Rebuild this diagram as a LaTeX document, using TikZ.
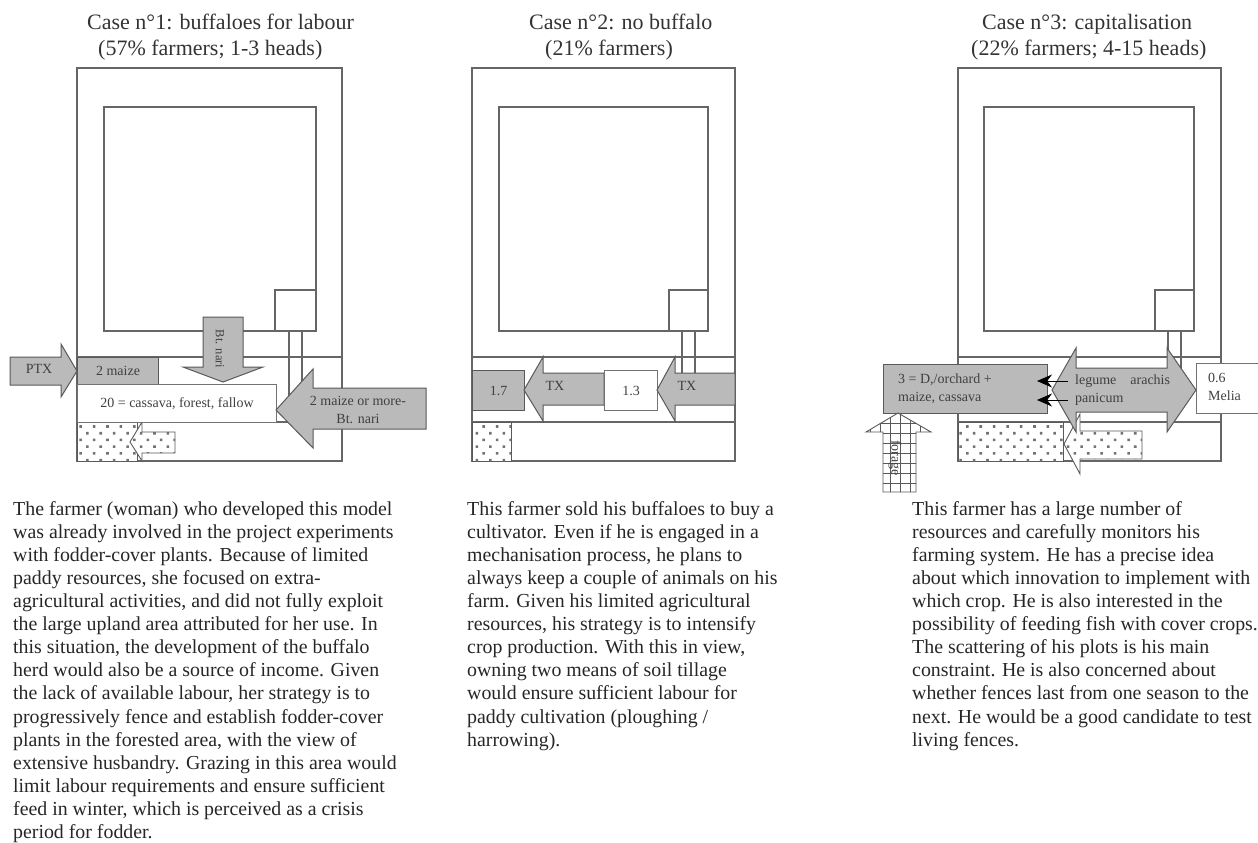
\documentclass[tikz,border=0pt]{standalone}
\usepackage{fontspec}
\setmainfont{Liberation Serif}
\usepackage{tikz}
\usetikzlibrary{patterns.meta, arrows.meta}

\begin{document}
\begin{tikzpicture}[
    x=1pt, y=-1pt,
    wall/.style={draw=black!60, line width=1.1pt},
    flowarrow/.style={draw=black!65, line width=1pt, fill=black!27},
    greybox/.style={draw=black!65, line width=1pt, fill=black!27},
    whitebox/.style={draw=black!55, line width=1pt, fill=white},
    dotarea/.style={draw=black!65, line width=0.9pt, fill=white, postaction={pattern={Dots[angle=45,distance=9.5pt,radius=1.8pt]}, pattern color=black!55}},
    gridarrow/.style={draw=black!65, line width=0.9pt, fill=white, postaction={pattern={Hatch[angle=0,distance=10pt,line width=0.6pt]}, pattern color=black!65}},
    heading/.style={font=\fontsize{22}{26}\selectfont, align=left, anchor=west, inner sep=0pt, text=black!80},
    story/.style={font=\fontsize{19.85}{23.1}\selectfont, align=left, anchor=north west, inner sep=0pt, text=black!85},
    tag/.style={font=\fontsize{14}{18}\selectfont, align=center, inner sep=0pt, text=black!75}
]
\useasboundingbox (0,0) rectangle (1258,843);

% Case 1
\node[heading] (title1) at (87,37) {Case n°1:  buffaloes for labour\\\hspace*{11pt}(57\% farmers; 1-3 heads)};
\draw[wall] (77,68) rectangle (342,461);
\draw[wall] (104,107) rectangle (316,331);
\draw[wall] (275,290) rectangle (316,331);
\draw[wall] (289,331) -- (289,400);
\draw[wall] (302,331) -- (302,400);
\draw[wall] (77,357) -- (342,357);
\draw[wall] (77,422) -- (342,422);
\draw[dotarea] (77,422) rectangle (137,461);
\draw[dotarea] (130,442) -- (142,422) -- (142,432) -- (175,432) -- (175,453) -- (142,453) -- (142,461) -- cycle;
\node[greybox, minimum width=81pt, minimum height=27pt, inner sep=0pt, anchor=north west, tag] (maize1) at (77,357) {2 maize};
\node[whitebox, minimum width=199pt, minimum height=38pt, inner sep=0pt, anchor=north west, tag] (mixed1) at (77,384) {20 = cassava, forest, fallow};
\draw[flowarrow] (10,357) -- (61,357) -- (61,344) -- (77,371) -- (61,397) -- (61,385) -- (10,385) -- cycle;
\node[tag] (ptx1) at (39,369) {PTX};
\draw[flowarrow] (203,317) -- (243,317) -- (243,367) -- (263,367) -- (223,382) -- (183,367) -- (203,367) -- cycle;
\node[tag, rotate=270, font=\fontsize{12.5}{14}\selectfont] (nari1) at (220,349) {Bt. nari};
\draw[flowarrow] (276,410) -- (313,369) -- (313,388) -- (426,388) -- (426,429) -- (313,429) -- (313,448) -- cycle;
\node[tag] (more1) at (358,410) {2 maize or more-\\Bt. nari};
\node[story] (text1) at (13,501) {The farmer (woman) who developed this model\\
was already involved in the project experiments\\
with fodder-cover plants. Because of limited\\
paddy resources, she focused on extra-\\
agricultural activities, and did not fully exploit\\
the large upland area attributed for her use. In\\
this situation, the development of the buffalo\\
herd would also be a source of income.  Given\\
the lack of available labour, her strategy is to\\
progressively fence and establish fodder-cover\\
plants in the forested area, with the view of\\
extensive husbandry. Grazing in this area would\\
limit labour requirements and ensure sufficient\\
feed in winter, which is perceived as a crisis\\
period for fodder.};

% Case 2
\node[heading] (title2) at (529,37) {Case n°2: no buffalo\\\hspace*{16pt}(21\% farmers)};
\draw[wall] (472,68) rectangle (735,461);
\draw[wall] (499,107) rectangle (708,331);
\draw[wall] (669,290) rectangle (708,331);
\draw[wall] (682,331) -- (682,373);
\draw[wall] (695,331) -- (695,373);
\draw[wall] (472,357) -- (735,357);
\draw[wall] (472,422) -- (735,422);
\draw[dotarea] (472,422) rectangle (511,461);
\node[greybox, minimum width=52pt, minimum height=40pt, inner sep=0pt, anchor=north west, tag] (maize2) at (472,370) {1.7};
\draw[flowarrow] (524,390) -- (543,357) -- (543,373) -- (604,373) -- (604,405) -- (543,405) -- (543,421) -- cycle;
\node[tag] (tx2a) at (555,386) {TX};
\node[whitebox, minimum width=53pt, minimum height=40pt, inner sep=0pt, anchor=north west, tag] (mid2) at (604,370) {1.3};
\draw[flowarrow] (657,390) -- (675,357) -- (675,373) -- (735,373) -- (735,405) -- (675,405) -- (675,421) -- cycle;
\node[tag] (tx2b) at (687,386) {TX};
\node[story] (text2) at (467,501) {This farmer sold his buffaloes to buy a\\
cultivator. Even if he is engaged in a\\
mechanisation process, he plans to\\
always keep a couple of animals on his\\
farm. Given his limited agricultural\\
resources, his strategy is to intensify\\
crop production. With this in view,\\
owning two means of soil tillage\\
would ensure sufficient labour for\\
paddy cultivation (ploughing /\\
harrowing).};

% Case 3
\node[heading] (title3) at (971,37) {\hspace*{11pt}Case n°3: capitalisation\\(22\% farmers; 4-15 heads)};
\draw[wall] (958,68) rectangle (1221,461);
\draw[wall] (984,107) rectangle (1194,331);
\draw[wall] (1155,290) rectangle (1194,331);
\draw[wall] (1168,331) -- (1168,370);
\draw[wall] (1181,331) -- (1181,370);
\draw[wall] (958,357) -- (1221,357);
\draw[wall] (958,422) -- (1221,422);
\draw[dotarea] (958,422) rectangle (1063,461);
\draw[dotarea] (1064,444) -- (1080,414) -- (1080,431) -- (1142,431) -- (1142,459) -- (1080,459) -- (1080,474) -- cycle;
\node[greybox, minimum width=164pt, minimum height=49pt, inner sep=0pt, anchor=north west] (orchard3) at (883,364) {};
\node[tag, align=left, anchor=west] (orchardtext3) at (898,389) {3 = D,/orchard +\\maize, cassava};
\draw[flowarrow] (1052,390) -- (1076,348) -- (1076,368) -- (1167,368) -- (1167,348) -- (1196,390) -- (1167,432) -- (1167,412) -- (1076,412) -- (1076,432) -- cycle;
\node[tag, align=left, anchor=west] (legume3) at (1075,390) {legume\quad arachis\\panicum};
\coordinate (tipa) at (1037,381);
\coordinate (taila) at (1068,381);
\coordinate (tipb) at (1037,400);
\coordinate (tailb) at (1068,400);
\draw[-{Stealth[length=15pt,width=13pt]}, black, line width=0.7pt] (taila) -- (tipa);
\draw[-{Stealth[length=15pt,width=13pt]}, black, line width=0.7pt] (tailb) -- (tipb);
\node[whitebox, minimum width=62pt, minimum height=50pt, inner sep=0pt, anchor=north west] (melia3) at (1196,363) {};
\node[tag, align=left, anchor=west] (meliatext3) at (1208,387) {0.6\\Melia};
\draw[gridarrow] (898,413) -- (931,432) -- (916,432) -- (916,492) -- (883,492) -- (883,432) -- (866,432) -- cycle;
\node[tag, rotate=270] (forage3) at (895,458) {forage};
\node[story] (text3) at (912,501) {This farmer has a large number of\\
resources and carefully monitors his\\
farming system. He has a precise idea\\
about which innovation to implement with\\
which crop. He is also interested in the\\
possibility of feeding fish with cover crops.\\
The scattering of his plots is his main\\
constraint. He is also concerned about\\
whether fences last from one season to the\\
next. He would be a good candidate to test\\
living fences.};

\end{tikzpicture}
\end{document}
